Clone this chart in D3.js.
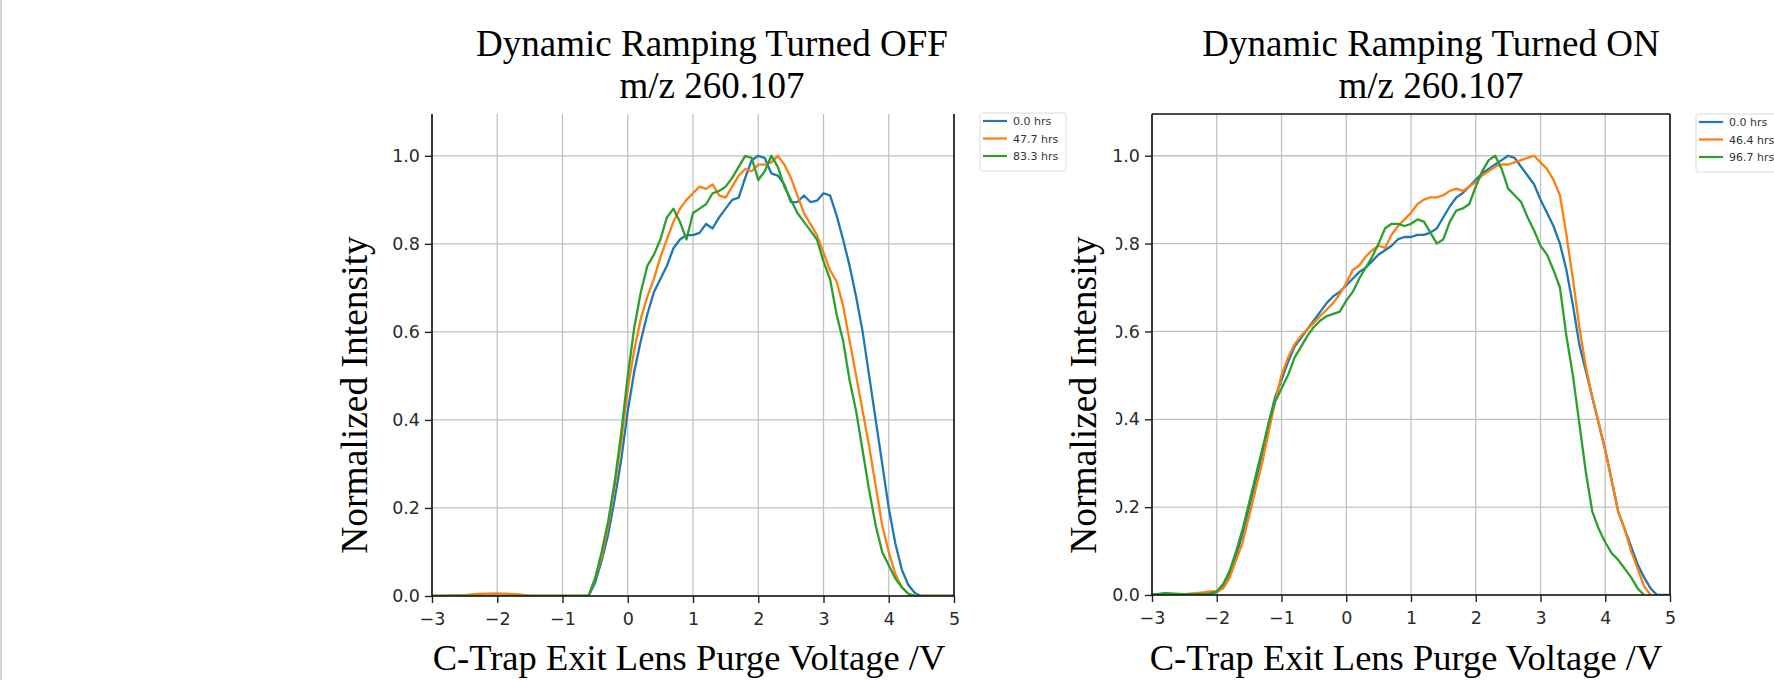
<!DOCTYPE html>
<html>
<head>
<meta charset="utf-8">
<script src="https://cdn.jsdelivr.net/npm/d3@7"></script>
<style>
  html, body { margin: 0; padding: 0; background: #fff; }
  svg { display: block; }
</style>
</head>
<body>
<svg id="chart" width="1774" height="680"></svg>
<script>
"use strict";

// ---- data ----
var colors = ["#1f77b4", "#ff7f0e", "#2ca02c"];
var xTicks = [-3, -2, -1, 0, 1, 2, 3, 4, 5];
var yTicks = [0, 0.2, 0.4, 0.6, 0.8, 1.0];

var offTitle = ["Dynamic Ramping Turned OFF", "m/z 260.107"];
var onTitle = ["Dynamic Ramping Turned ON", "m/z 260.107"];
var offLabels = ["0.0 hrs", "47.7 hrs", "83.3 hrs"];
var onLabels = ["0.0 hrs", "46.4 hrs", "96.7 hrs"];

var xOff = [-3.0, -2.5, -2.3, -2.0, -1.7, -1.5, -1.0, -0.6, -0.5, -0.4, -0.3, -0.2, -0.1, 0.0, 0.1, 0.2, 0.3, 0.4, 0.5, 0.6, 0.7, 0.8, 0.9, 1.0, 1.1, 1.2, 1.3, 1.4, 1.5, 1.6, 1.7, 1.8, 1.9, 2.0, 2.1, 2.2, 2.3, 2.4, 2.5, 2.6, 2.7, 2.8, 2.9, 3.0, 3.1, 3.2, 3.3, 3.4, 3.5, 3.6, 3.7, 3.8, 3.9, 4.0, 4.1, 4.2, 4.3, 4.4, 4.5, 4.75, 5.0];
var offBlue = [0, 0, 0, 0, 0, 0, 0, 0, 0.03, 0.08, 0.14, 0.22, 0.31, 0.42, 0.51, 0.58, 0.64, 0.69, 0.72, 0.75, 0.79, 0.81, 0.82, 0.82, 0.825, 0.845, 0.835, 0.86, 0.88, 0.9, 0.905, 0.95, 0.99, 1.0, 0.995, 0.96, 0.955, 0.935, 0.895, 0.895, 0.91, 0.895, 0.898, 0.915, 0.91, 0.865, 0.81, 0.75, 0.68, 0.6, 0.5, 0.4, 0.3, 0.2, 0.12, 0.06, 0.025, 0.007, 0, 0, 0];
var offOrange = [0, 0.002, 0.005, 0.006, 0.004, 0.001, 0, 0, 0.04, 0.09, 0.16, 0.25, 0.35, 0.47, 0.56, 0.63, 0.68, 0.72, 0.77, 0.81, 0.85, 0.88, 0.9, 0.915, 0.93, 0.925, 0.935, 0.91, 0.905, 0.93, 0.955, 0.97, 0.965, 0.98, 0.98, 0.985, 1.0, 0.98, 0.95, 0.91, 0.87, 0.845, 0.82, 0.78, 0.74, 0.715, 0.66, 0.58, 0.5, 0.42, 0.34, 0.25, 0.16, 0.1, 0.05, 0.02, 0.005, 0, 0, 0, 0];
var offGreen = [0, 0, 0, 0, 0, 0, 0, 0, 0.04, 0.1, 0.17, 0.26, 0.37, 0.5, 0.61, 0.69, 0.75, 0.775, 0.81, 0.86, 0.88, 0.85, 0.81, 0.87, 0.88, 0.89, 0.915, 0.92, 0.93, 0.95, 0.975, 1.0, 0.995, 0.945, 0.965, 1.0, 0.975, 0.93, 0.9, 0.87, 0.85, 0.83, 0.81, 0.76, 0.72, 0.64, 0.58, 0.49, 0.42, 0.33, 0.24, 0.16, 0.1, 0.07, 0.04, 0.02, 0.005, 0, 0, 0, 0];

var xOn = [-3.0, -2.8, -2.5, -2.2, -2.1, -2.0, -1.9, -1.8, -1.7, -1.6, -1.5, -1.4, -1.3, -1.2, -1.1, -1.0, -0.9, -0.8, -0.7, -0.6, -0.5, -0.4, -0.3, -0.2, -0.1, 0.0, 0.1, 0.2, 0.3, 0.4, 0.5, 0.6, 0.7, 0.8, 0.9, 1.0, 1.1, 1.2, 1.3, 1.4, 1.5, 1.6, 1.7, 1.8, 1.9, 2.0, 2.1, 2.2, 2.3, 2.4, 2.5, 2.6, 2.7, 2.8, 2.9, 3.0, 3.1, 3.2, 3.3, 3.4, 3.5, 3.6, 3.7, 3.8, 3.9, 4.0, 4.1, 4.2, 4.3, 4.4, 4.5, 4.6, 4.7, 4.8, 5.0];
var onBlue = [0, 0.003, 0.001, 0.002, 0.004, 0.006, 0.02, 0.05, 0.09, 0.14, 0.2, 0.26, 0.32, 0.39, 0.45, 0.49, 0.53, 0.565, 0.585, 0.605, 0.625, 0.645, 0.665, 0.68, 0.69, 0.705, 0.72, 0.735, 0.745, 0.76, 0.775, 0.785, 0.795, 0.81, 0.815, 0.815, 0.82, 0.82, 0.825, 0.835, 0.86, 0.885, 0.905, 0.915, 0.93, 0.945, 0.96, 0.97, 0.98, 0.99, 1.0, 0.995, 0.975, 0.955, 0.935, 0.9, 0.87, 0.84, 0.8, 0.74, 0.66, 0.57, 0.51, 0.45, 0.39, 0.33, 0.26, 0.19, 0.15, 0.11, 0.07, 0.04, 0.015, 0, 0];
var onOrange = [0, 0.001, 0.002, 0.006, 0.008, 0.008, 0.015, 0.04, 0.08, 0.12, 0.18, 0.24, 0.3, 0.37, 0.44, 0.5, 0.54, 0.57, 0.59, 0.605, 0.62, 0.635, 0.65, 0.665, 0.685, 0.71, 0.74, 0.75, 0.77, 0.785, 0.795, 0.79, 0.82, 0.84, 0.855, 0.87, 0.89, 0.9, 0.905, 0.905, 0.91, 0.92, 0.925, 0.92, 0.93, 0.94, 0.955, 0.965, 0.975, 0.98, 0.98, 0.985, 0.99, 0.995, 1.0, 0.985, 0.97, 0.945, 0.91, 0.82, 0.72, 0.61, 0.52, 0.45, 0.39, 0.33, 0.26, 0.19, 0.15, 0.1, 0.06, 0.02, 0, null, null];
var onGreen = [0.001, 0.004, 0.002, 0.002, 0.003, 0.008, 0.025, 0.055, 0.1, 0.15, 0.21, 0.27, 0.33, 0.39, 0.44, 0.47, 0.5, 0.54, 0.565, 0.59, 0.61, 0.625, 0.635, 0.64, 0.645, 0.67, 0.69, 0.72, 0.745, 0.77, 0.8, 0.835, 0.845, 0.845, 0.84, 0.845, 0.855, 0.85, 0.825, 0.8, 0.81, 0.85, 0.875, 0.88, 0.89, 0.93, 0.965, 0.99, 1.0, 0.97, 0.925, 0.91, 0.895, 0.86, 0.83, 0.795, 0.775, 0.74, 0.7, 0.59, 0.5, 0.39, 0.28, 0.19, 0.15, 0.12, 0.095, 0.08, 0.06, 0.04, 0.015, 0, null, null, null];

// ---- drawing ----
var svg = d3.select("#chart");
var serif = "'Liberation Serif', 'Times New Roman', serif";
var sans = "'DejaVu Sans', sans-serif";

svg.append("rect")
  .attr("x", 0).attr("y", 0).attr("width", 2).attr("height", 680)
  .attr("fill", "#d4d4d4");

function panel(cfg) {
  var x = d3.scaleLinear().domain([-3, 5]).range([cfg.left, cfg.right]);
  var y = d3.scaleLinear().domain([0, 1.095]).range([cfg.bottom, cfg.top]);
  var g = svg.append("g").attr("class", "panel");

  // grid
  g.append("g").selectAll("line").data(xTicks).join("line")
    .attr("x1", function(d) { return x(d); }).attr("x2", function(d) { return x(d); })
    .attr("y1", cfg.top).attr("y2", cfg.bottom)
    .attr("stroke", "#c2c2c2").attr("stroke-width", 1.3);
  g.append("g").selectAll("line").data(yTicks).join("line")
    .attr("x1", cfg.left).attr("x2", cfg.right)
    .attr("y1", function(d) { return y(d); }).attr("y2", function(d) { return y(d); })
    .attr("stroke", "#c2c2c2").attr("stroke-width", 1.3);

  // axes
  var xa = g.append("g")
    .attr("transform", "translate(0," + cfg.bottom + ")")
    .call(d3.axisBottom(x).tickValues(xTicks).tickSize(7).tickPadding(10).tickFormat(d3.format("d")));
  var ya = g.append("g")
    .attr("transform", "translate(" + cfg.left + ",0)")
    .call(d3.axisLeft(y).tickValues(yTicks).tickSize(7).tickPadding(5).tickFormat(d3.format(".1f")));
  [xa, ya].forEach(function(a) {
    a.select(".domain").remove();
    a.selectAll(".tick line").attr("stroke", "#222").attr("stroke-width", 1.4);
    a.selectAll(".tick text")
      .attr("fill", "#2a2a2a")
      .style("font-family", sans)
      .style("font-size", "17.5px");
  });

  // curves
  var clipId = "clip-" + cfg.id;
  svg.append("clipPath").attr("id", clipId).append("rect")
    .attr("x", cfg.left).attr("y", cfg.top)
    .attr("width", cfg.right - cfg.left).attr("height", cfg.bottom - cfg.top);

  var line = d3.line()
    .defined(function(d) { return d[1] !== null; })
    .x(function(d) { return x(d[0]); })
    .y(function(d) { return y(d[1]); });

  var lines = g.append("g").attr("clip-path", "url(#" + clipId + ")");
  cfg.series.forEach(function(vals, i) {
    lines.append("path")
      .datum(cfg.xs.map(function(v, j) { return [v, vals[j]]; }))
      .attr("d", line)
      .attr("fill", "none")
      .attr("stroke", colors[i])
      .attr("stroke-width", 2.3)
      .attr("stroke-linejoin", "round");
  });

  // spines
  var sp = g.append("g").attr("stroke", "#111").attr("stroke-width", 1.6).attr("fill", "none");
  sp.append("line").attr("x1", cfg.left).attr("x2", cfg.left).attr("y1", cfg.top).attr("y2", cfg.bottom);
  sp.append("line").attr("x1", cfg.left).attr("x2", cfg.right).attr("y1", cfg.bottom).attr("y2", cfg.bottom);
  sp.append("line").attr("x1", cfg.right).attr("x2", cfg.right).attr("y1", cfg.top).attr("y2", cfg.bottom);
  if (cfg.topSpine) {
    sp.append("line").attr("x1", cfg.left).attr("x2", cfg.right).attr("y1", cfg.top).attr("y2", cfg.top);
  }

  // titles and axis labels
  g.selectAll("text.title").data(cfg.title).join("text")
    .attr("class", "title")
    .attr("x", cfg.titleX)
    .attr("y", function(d, i) { return 56 + i * 42; })
    .attr("text-anchor", "middle")
    .style("font-family", serif).style("font-size", "37px")
    .text(function(d) { return d; });

  g.append("text")
    .attr("x", cfg.xlabelX).attr("y", 670)
    .attr("text-anchor", "middle")
    .style("font-family", serif).style("font-size", "36.5px")
    .text("C-Trap Exit Lens Purge Voltage /V");

  if (cfg.mask) {
    g.append("rect")
      .attr("x", cfg.mask[0]).attr("y", cfg.mask[1])
      .attr("width", cfg.mask[2]).attr("height", cfg.mask[3])
      .attr("fill", "#fff");
  }
  g.append("text")
    .attr("transform", "translate(" + cfg.ylabelX + ",395) rotate(-90)")
    .attr("text-anchor", "middle")
    .style("font-family", serif).style("font-size", "37.5px")
    .text("Normalized Intensity");

  // legend
  var lg = g.append("g").attr("transform", "translate(" + cfg.legend[0] + "," + cfg.legend[1] + ")");
  lg.append("rect")
    .attr("x", 0).attr("y", 0).attr("width", 86).attr("height", 58)
    .attr("rx", 2).attr("fill", "#fff").attr("stroke", "#dcdcdc").attr("stroke-width", 1);
  cfg.labels.forEach(function(lab, i) {
    var yy = 8 + i * 17.5;
    lg.append("line")
      .attr("x1", 3).attr("x2", 27).attr("y1", yy).attr("y2", yy)
      .attr("stroke", colors[i]).attr("stroke-width", 2.2);
    lg.append("text")
      .attr("x", 33).attr("y", yy + 4)
      .attr("fill", "#333")
      .style("font-family", sans).style("font-size", "11px")
      .text(lab);
  });
}

panel({
  id: "off", left: 432, right: 954, top: 114, bottom: 596,
  xs: xOff, series: [offBlue, offOrange, offGreen], labels: offLabels,
  title: offTitle, titleX: 712, xlabelX: 689, ylabelX: 367,
  legend: [980, 113], topSpine: false, mask: null
});

panel({
  id: "on", left: 1152, right: 1670, top: 114, bottom: 595,
  xs: xOn, series: [onBlue, onOrange, onGreen], labels: onLabels,
  title: onTitle, titleX: 1431, xlabelX: 1406, ylabelX: 1096,
  legend: [1696, 114], topSpine: true, mask: [1060, 222, 56, 345]
});
</script>
</body>
</html>
